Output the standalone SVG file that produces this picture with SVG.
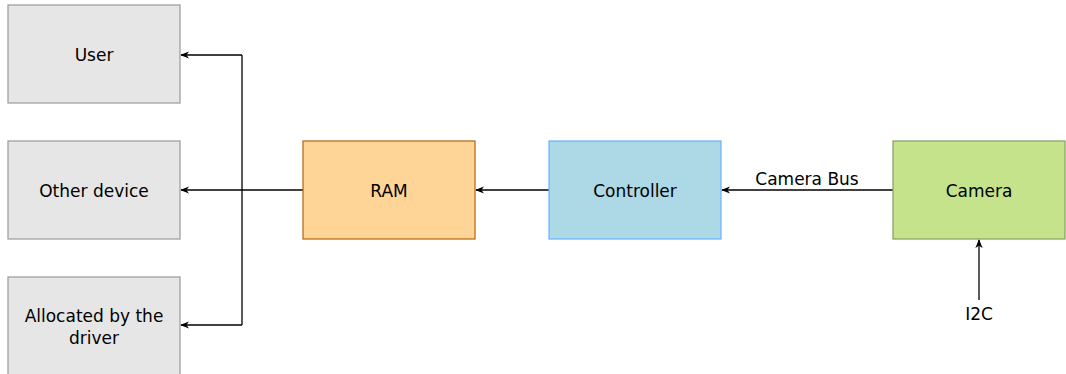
<svg xmlns="http://www.w3.org/2000/svg" width="1066" height="374" viewBox="0 0 1066 374">
  <style>
    text { font-family: "DejaVu Sans", sans-serif; font-size: 17px; fill: #000; text-anchor: middle; }
    .grey { fill: #e6e6e6; stroke: #999999; stroke-width: 1.2; }
    .ram { fill: #ffd597; stroke: #b46504; stroke-width: 1.2; }
    .ctl { fill: #add8e6; stroke: #66b2ff; stroke-width: 1.2; }
    .cam { fill: #c5e38a; stroke: #82a060; stroke-width: 1.2; }
    .wire { fill: none; stroke: #000; stroke-width: 1.3; }
  </style>
  <defs>
    <marker id="arrow" viewBox="0 0 10 10" refX="9" refY="5" markerWidth="7" markerHeight="7" orient="auto">
      <path d="M0,1 L10,5 L0,9 L3,5 Z" fill="#000"/>
    </marker>
  </defs>
  <rect width="1066" height="374" fill="#ffffff"/>

  <g id="connectors">
    <path class="wire" d="M303,190 L242,190"/>
    <path class="wire" d="M242,55 L242,325"/>
    <path class="wire" d="M242,55 L181,55" marker-end="url(#arrow)"/>
    <path class="wire" d="M242,190 L181,190" marker-end="url(#arrow)"/>
    <path class="wire" d="M242,325 L181,325" marker-end="url(#arrow)"/>
    <path class="wire" d="M549,190 L476,190" marker-end="url(#arrow)"/>
    <path class="wire" d="M893,190 L722,190" marker-end="url(#arrow)"/>
    <path class="wire" d="M979,300 L979,240" marker-end="url(#arrow)"/>
    <text x="807" y="185">Camera Bus</text>
    <text x="979" y="320">I2C</text>
  </g>

  <g id="user">
    <rect class="grey" x="8" y="5" width="172" height="98"/>
    <text x="94" y="61">User</text>
  </g>
  <g id="other-device">
    <rect class="grey" x="8" y="141" width="172" height="98"/>
    <text x="94" y="197">Other device</text>
  </g>
  <g id="allocated">
    <rect class="grey" x="8" y="277" width="172" height="98"/>
    <text x="94" y="322">Allocated by the</text>
    <text x="94" y="344">driver</text>
  </g>
  <g id="ram">
    <rect class="ram" x="303" y="141" width="172" height="98"/>
    <text x="389" y="197">RAM</text>
  </g>
  <g id="controller">
    <rect class="ctl" x="549" y="141" width="172" height="98"/>
    <text x="635" y="197">Controller</text>
  </g>
  <g id="camera">
    <rect class="cam" x="893" y="141" width="172" height="98"/>
    <text x="979" y="197">Camera</text>
  </g>
</svg>
